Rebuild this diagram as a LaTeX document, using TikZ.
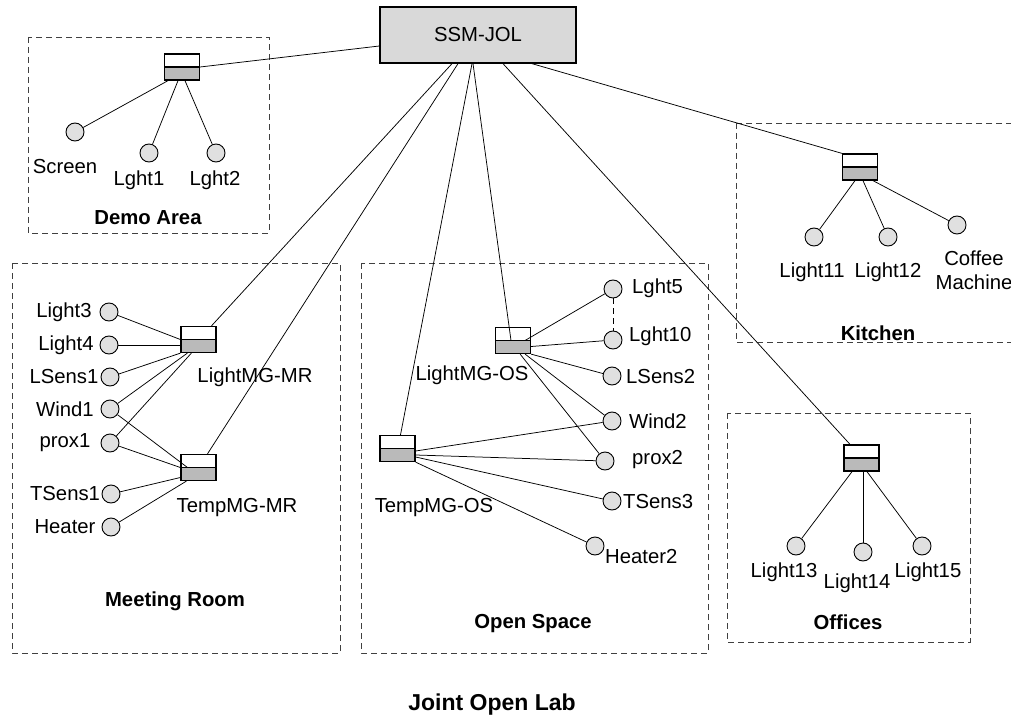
\documentclass[tikz,border=0pt]{standalone}
\usepackage{fontspec}
\setmainfont{Liberation Sans}
\usetikzlibrary{calc}
\tikzset{
  lbl/.style={font=\fontsize{20.3}{24}\selectfont, inner sep=0pt},
  region/.style={font=\bfseries\fontsize{20.3}{24}\selectfont, inner sep=0pt},
  zone/.style={draw=black!75, dash pattern=on 6pt off 4pt, line width=0.9pt},
  gw/.style={draw, line width=1.3pt, minimum width=35pt, minimum height=26pt, inner sep=0pt, fill=white,
    path picture={
      \fill[black!27] (path picture bounding box.west) rectangle (path picture bounding box.south east);
      \draw[line width=1.3pt] (path picture bounding box.west) -- (path picture bounding box.east);}},
  dev/.style={circle, draw, fill=black!12, minimum size=18pt, inner sep=0pt, line width=0.9pt},
  server/.style={draw, fill=black!15, line width=1.3pt, minimum width=196pt, minimum height=56pt,
    inner sep=0pt, font=\fontsize{20.3}{24}\selectfont},
  link/.style={line width=0.75pt},
  chain/.style={line width=0.9pt, dash pattern=on 6pt off 4pt},
}
\begin{document}
\begin{tikzpicture}[x=1pt,y=-1pt]
\useasboundingbox (0,0) rectangle (1011,719);

% zones
\draw[zone] (28,37) rectangle (269,233);
\draw[zone] (736,123) rectangle (1020,342);
\draw[zone] (727,413) rectangle (970,642);
\draw[zone] (12,263) rectangle (340,653);
\draw[zone] (361,263) rectangle (708,653);

% zone titles
\node[region] (tDemo) at (148,218) {Demo Area};
\node[region] (tKit) at (878,333) {Kitchen};
\node[region] (tOff) at (848,622) {Offices};
\node[region] (tMR) at (175,601) {Meeting Room};
\node[region] (tOS) at (533,624) {Open Space};
\node[region, font=\bfseries\fontsize{23}{26}\selectfont] (tJOL) at (492,705) {Joint Open Lab};

% central server
\node[server] (ssm) at (478,35) {SSM-JOL};

% gateways
\node[gw] (dDemo) at (182,67) {};
\node[gw] (dKit) at (860,167) {};
\node[gw] (dOff) at (861.5,458) {};
\node[gw] (dLMR) at (198.5,339.5) {};
\node[gw] (dTMR) at (198.5,467.5) {};
\node[gw] (dLOS) at (513,340.5) {};
\node[gw] (dTOS) at (397.5,448.5) {};

% gateway names
\node[lbl] (nLMR) at (255,377) {LightMG-MR};
\node[lbl] (nTMR) at (237,508) {TempMG-MR};
\node[lbl] (nLOS) at (472,375) {LightMG-OS};
\node[lbl] (nTOS) at (434,508) {TempMG-OS};

% demo area devices
\node[dev] (scr) at (75,132) {};
\node[dev] (lg1) at (149,153) {};
\node[dev] (lg2) at (216,153) {};
\node[lbl] (tScr) at (65,167) {Screen};
\node[lbl] (tLg1) at (139,180) {Lght1};
\node[lbl] (tLg2) at (215,180) {Lght2};

% kitchen devices
\node[dev] (k11) at (814,237) {};
\node[dev] (k12) at (888,237) {};
\node[dev] (cof) at (957,225) {};
\node[lbl] (tK11) at (812,272) {Light11};
\node[lbl] (tK12) at (888,272) {Light12};
\node[lbl, align=center] (tCof) at (974,270) {Coffee\\Machine};

% office devices
\node[dev] (o13) at (796,546) {};
\node[dev] (o14) at (863,552) {};
\node[dev] (o15) at (922,546) {};
\node[lbl] (tO13) at (784,572) {Light13};
\node[lbl] (tO14) at (857,583) {Light14};
\node[lbl] (tO15) at (928,572) {Light15};

% meeting room devices
\node[dev] (c3) at (109,312) {};
\node[dev] (c4) at (109,345) {};
\node[dev] (ls1) at (110,377) {};
\node[dev] (w1) at (110,409) {};
\node[dev] (p1) at (110,443) {};
\node[dev] (ts1) at (111,494) {};
\node[dev] (ht) at (111,527) {};
\node[lbl] (tC3) at (64,312) {Light3};
\node[lbl] (tC4) at (66,345) {Light4};
\node[lbl] (tLs1) at (64,377) {LSens1};
\node[lbl] (tW1) at (65,409) {Wind1};
\node[lbl] (tP1) at (65,443) {prox1};
\node[lbl] (tTs1) at (65,494) {TSens1};
\node[lbl] (tHt) at (65,527) {Heater};

% open space devices
\node[dev] (l5) at (613,289) {};
\node[dev] (l10) at (613,340) {};
\node[dev] (ls2) at (612,376) {};
\node[dev] (w2) at (612,421) {};
\node[dev] (p2) at (605,461) {};
\node[dev] (ts3) at (612,501) {};
\node[dev] (h2) at (595,546) {};
\node[lbl, anchor=west] (tL5) at (632,288) {Lght5};
\node[lbl, anchor=west] (tL10) at (629,336) {Lght10};
\node[lbl, anchor=west] (tLs2) at (626,377) {LSens2};
\node[lbl, anchor=west] (tW2) at (629,421) {Wind2};
\node[lbl, anchor=west] (tP2) at (632,460) {prox2};
\node[lbl, anchor=west] (tTs3) at (623,502) {TSens3};
\node[lbl, anchor=west] (tH2) at (605,557) {Heater2};

% server uplinks
\draw[link] ($(ssm.west)+(0,11)$) -- (dDemo.east);
\draw[link] ($(ssm.south)+(-26,0)$) -- ($(dLMR.north)+(13,0)$);
\draw[link] ($(ssm.south)+(-20,0)$) -- ($(dTMR.north)+(9,0)$);
\draw[link] ($(ssm.south)+(-6,0)$) -- ($(dTOS.north)+(3,0)$);
\draw[link] ($(ssm.south)+(-5,0)$) -- ($(dLOS.center)+(-2,0)$);
\draw[link] ($(ssm.south)+(25,0)$) -- ($(dOff.north)+(-11.5,0)$);
\draw[link] ($(ssm.south)+(54,0)$) -- (dKit.north west);

% demo area links
\draw[link] ($(dDemo.south)+(-14,0)$) -- (scr);
\draw[link] ($(dDemo.south)+(-4,0)$) -- (lg1);
\draw[link] ($(dDemo.south)+(3,0)$) -- (lg2);

% kitchen links
\draw[link] ($(dKit.south)+(-5,0)$) -- (k11);
\draw[link] ($(dKit.south)+(3,0)$) -- (k12);
\draw[link] ($(dKit.south)+(13,0)$) -- (cof);

% office links
\draw[link] ($(dOff.south)+(-9.5,0)$) -- (o13);
\draw[link] ($(dOff.south)+(1.5,0)$) -- (o14);
\draw[link] ($(dOff.south)+(5.5,0)$) -- (o15);

% meeting room links
\draw[link] (c3) -- (dLMR.west);
\draw[link] (c4) -- ($(dLMR.west)+(0,5.5)$);
\draw[link] (ls1) -- (dLMR.south west);
\draw[link] (w1) -- ($(dLMR.south west)+(7,0)$);
\draw[link] (p1) -- ($(dLMR.south west)+(11,0)$);
\draw[link] (w1) -- ($(dTMR.center)+(-11,0)$);
\draw[link] (p1) -- (dTMR.west);
\draw[link] (ts1) -- ($(dTMR.west)+(0,10)$);
\draw[link] (ht) -- ($(dTMR.south west)+(6,0)$);

% open space links
\draw[link] (l5) -- ($(dLOS.center)+(12,0)$);
\draw[link] (l10) -- ($(dLOS.east)+(0,6)$);
\draw[link] (ls2) -- (dLOS.south east);
\draw[link] (w2) -- ($(dLOS.south east)+(-6,0)$);
\draw[link] (p2) -- ($(dLOS.south east)+(-11,0)$);
\draw[link] (w2) -- ($(dTOS.east)+(0,2.5)$);
\draw[link] (p2) -- ($(dTOS.east)+(0,6.5)$);
\draw[link] (ts3) -- ($(dTOS.east)+(0,8.5)$);
\draw[link] (h2) -- (dTOS.south east);
\draw[chain] (l5) -- (l10);
\end{tikzpicture}
\end{document}
